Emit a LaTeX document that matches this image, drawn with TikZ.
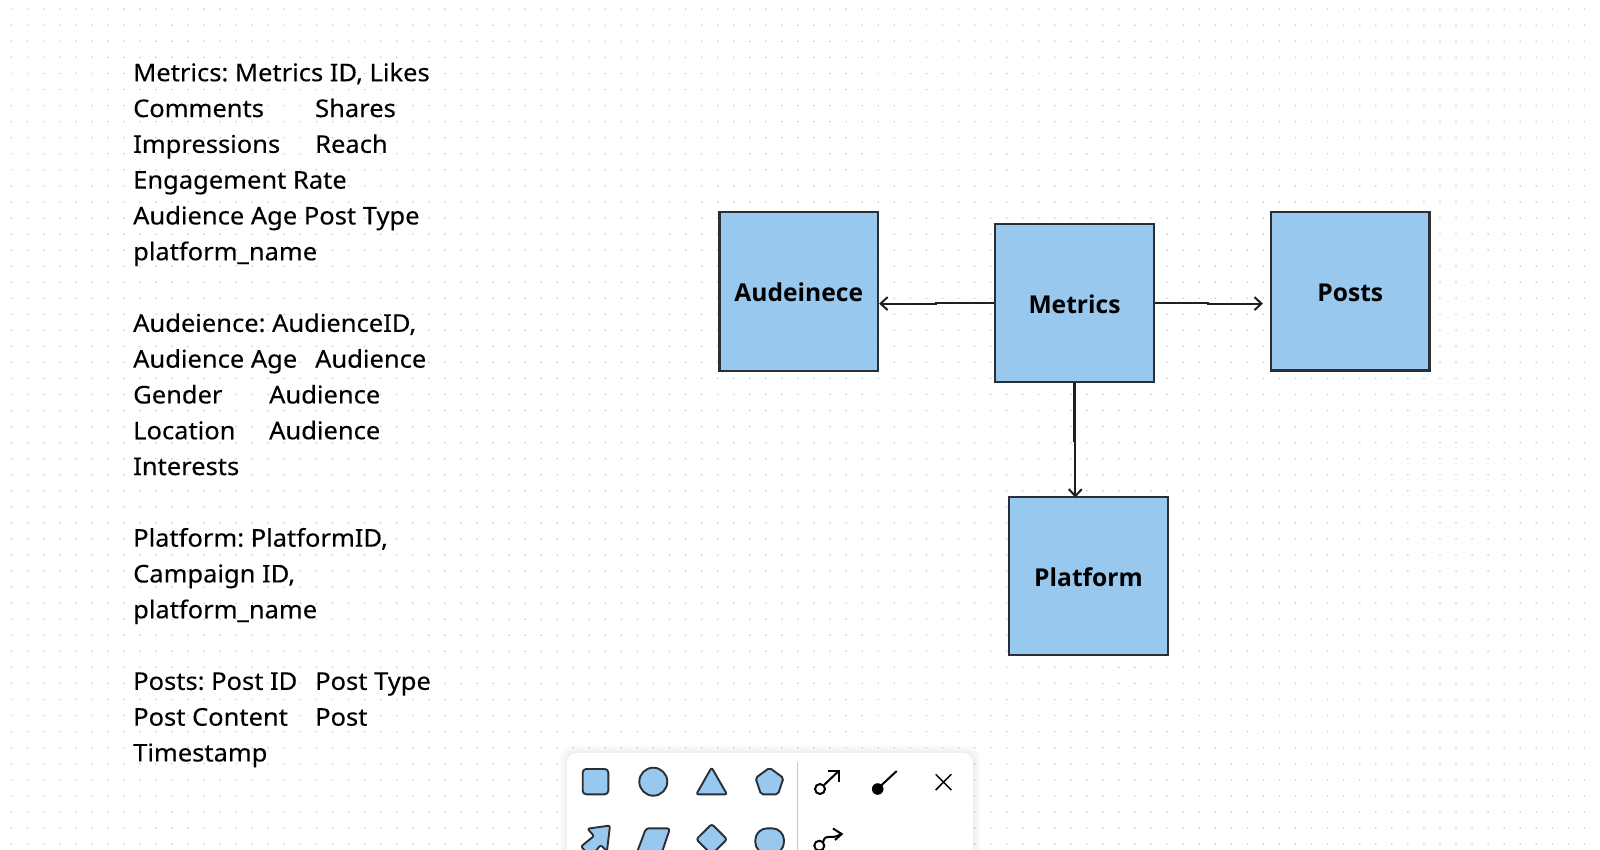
\documentclass[tikz,border=0pt]{standalone}
\usepackage{fontspec}
\usetikzlibrary{arrows.meta}
\setmainfont[FakeStretch=1.045,FakeBold=0.2]{Noto Sans}
\newfontfamily\boxfont{Open Sans}
\definecolor{boxblue}{HTML}{98C8EE}
\definecolor{boxedge}{HTML}{2A2F36}
\definecolor{dotgrey}{HTML}{CFCFCF}
\definecolor{inkdark}{HTML}{1F1F1F}
\tikzset{
  entity/.style={draw=boxedge, fill=boxblue, line width=2.3pt, minimum size=158.5pt, inner sep=0pt,
    text height=20.5pt, text depth=0pt, font=\boxfont\fontsize{24.6}{28}\selectfont\bfseries},
  flow/.style={draw=inkdark, line width=2.2pt, -{Straight Barb[length=7pt,width=13pt,line width=2pt]}},
  shapeicon/.style={draw=boxedge, fill=boxblue, line width=1.9pt, line join=round},
  lineicon/.style={draw=black, line width=2pt}
}
\begin{document}
\frenchspacing
\begin{tikzpicture}[x=1pt,y=-1pt]
    \useasboundingbox (0,0) rectangle (1600,850);
    \clip (0,0) rectangle (1600,850);
    \fill[white] (0,0) rectangle (1600,850);

    % dotted canvas
    \foreach \i in {0, ..., 99} {
      \foreach \j in {0, ..., 52} {
        \fill[dotgrey] ({11.5+16.05*\i}, {9.3+16.05*\j}) circle (0.95);
      }
    }

    % attribute list
    \node[anchor=north west, inner sep=0pt, align=left, font=\fontsize{24.4}{35.8}\selectfont] (notes) at (133,62.5) {%
      Metrics: Metrics ID, Likes\\
      \makebox[182pt][l]{Comments}Shares\\
      \makebox[182pt][l]{Impressions}Reach\\
      Engagement Rate\\
      Audience Age Post Type\\
      platform\_name\\[35.8pt]
      Audeience: AudienceID,\\
      \makebox[182pt][l]{Audience Age}Audience\\
      \makebox[136pt][l]{Gender}Audience\\
      \makebox[136pt][l]{Location}Audience\\
      Interests\\[35.8pt]
      Platform: PlatformID,\\
      Campaign ID,\\
      platform\_name\\[35.8pt]
      \makebox[182pt][l]{Posts: Post ID}Post Type\\
      \makebox[182pt][l]{Post Content}Post\\
      Timestamp};

    % boxes
    \node[entity] (audeinece) at (798.75, 291.5) {Audeinece};
    \node[entity] (metrics) at (1074.5, 303) {Metrics};
    \node[entity] (posts) at (1350.3, 291.3) {Posts};
    \node[entity] (platform) at (1088.5, 576) {Platform};

    % connectors, each with the small step in the middle
    \draw[flow] (metrics.west) -- ++(-58, 0) -- ++(0, 0.6) -- ([yshift=-0.6pt]metrics.west -| audeinece.east);
    \draw[flow] (metrics.east) -- ++(53, 0) -- ++(0, 0.6) -- ([xshift=-7pt, yshift=-0.6pt]metrics.east -| posts.west);
    \draw[flow] (metrics.south) -- ++(0, 57) -- ++(0.8, 0) -- ([xshift=0.8pt, yshift=-2pt]metrics.south |- platform.north);

    % palette panel
    \foreach \s in {1, ..., 8} {
      \fill[black, opacity=0.006, rounded corners=11pt] ({567-\s}, {753-\s}) rectangle ({973+\s}, 880);
    }
    \fill[white, rounded corners=10pt] (567, 753) rectangle (973, 880);
    \draw[black!22, line width=1.2pt] (797.3, 761.7) -- (797.3, 850);

    % first row of shapes
    \draw[shapeicon, rounded corners=3.5pt] (582.7, 769) rectangle (608.3, 794.3);
    \draw[shapeicon] (653.3, 781.7) circle (14);
    \draw[shapeicon, rounded corners=2pt] (711.6, 767.5) -- (727, 794.3) -- (696.3, 794.3) -- cycle;
    \draw[shapeicon, rounded corners=2pt] (769.5, 767.8) -- (783.5, 778) -- (778, 794.3) -- (761, 794.3) -- (755.5, 778) -- cycle;

    % second row of shapes
    \draw[shapeicon, rounded corners=2pt] (610, 825.5) -- (587.5, 828.7) -- (594, 836) -- (581, 846.5) -- (591, 857) -- (600.5, 845) -- (607, 851) -- cycle;
    \draw[shapeicon, rounded corners=3pt] (646, 828.3) -- (670, 828.3) -- (661, 855) -- (636, 855) -- cycle;
    \draw[shapeicon, rounded corners=2.5pt] (711.7, 824) -- (727, 839.3) -- (711.7, 854.6) -- (696.3, 839.3) -- cycle;
    \draw[shapeicon, rounded corners=12pt] (755.3, 828.3) rectangle (784, 854);

    % line tools
    \draw[lineicon] (820, 789) circle (5);
    \draw[lineicon] (824, 785) -- (838.7, 771);
    \draw[lineicon] (827.7, 771) -- (839, 771) -- (839, 782.3);
    \fill[black] (877.7, 789) circle (5.8);
    \draw[lineicon] (880, 786.5) -- (896.7, 771);
    \draw[black, line width=1.5pt] (935.7, 774.3) -- (951.3, 790) (951.3, 774.3) -- (935.7, 790);
    \draw[lineicon] (819.3, 845.7) circle (5);
    \draw[lineicon] (823, 842) .. controls (826, 832) and (831, 841) .. (841, 834);
    \draw[lineicon] (833, 828.5) -- (841.7, 834) -- (835, 840);
  \end{tikzpicture}
\end{document}
